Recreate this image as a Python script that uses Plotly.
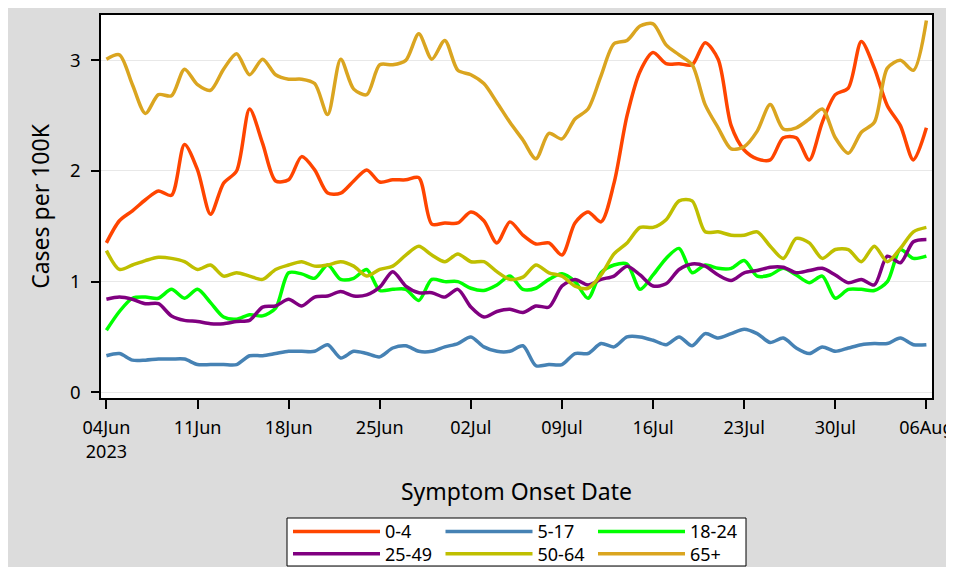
import pandas as pd
import plotly.graph_objects as go

# ---- data ----
start_date = "2023-06-04"
n_days = 64
dates = pd.date_range(start_date, periods=n_days, freq="D")

series_names = ["0-4", "5-17", "18-24", "25-49", "50-64", "65+"]

age_0_4 = [1.35, 1.55, 1.64, 1.74, 1.82, 1.78, 2.24, 2.01, 1.61, 1.89,
           2.00, 2.56, 2.25, 1.91, 1.92, 2.13, 2.01, 1.80, 1.80, 1.91,
           2.01, 1.90, 1.92, 1.92, 1.94, 1.52, 1.53, 1.53, 1.63, 1.55,
           1.35, 1.54, 1.42, 1.34, 1.35, 1.24, 1.53, 1.63, 1.54, 1.89,
           2.50, 2.90, 3.07, 2.97, 2.97, 2.96, 3.16, 3.01, 2.41, 2.19,
           2.11, 2.10, 2.30, 2.30, 2.10, 2.44, 2.69, 2.75, 3.17, 2.93,
           2.59, 2.41, 2.10, 2.39]
age_5_17 = [0.33, 0.35, 0.29, 0.29, 0.30, 0.30, 0.30, 0.25, 0.25, 0.25,
            0.25, 0.33, 0.33, 0.35, 0.37, 0.37, 0.37, 0.43, 0.31, 0.37,
            0.35, 0.32, 0.40, 0.42, 0.37, 0.37, 0.41, 0.44, 0.50, 0.41,
            0.37, 0.37, 0.42, 0.24, 0.25, 0.25, 0.35, 0.35, 0.44, 0.41,
            0.50, 0.50, 0.47, 0.43, 0.50, 0.42, 0.53, 0.49, 0.53, 0.57,
            0.53, 0.45, 0.49, 0.40, 0.35, 0.41, 0.37, 0.40, 0.43, 0.44,
            0.44, 0.49, 0.43, 0.43]
age_18_24 = [0.56, 0.73, 0.85, 0.86, 0.85, 0.93, 0.85, 0.93, 0.81, 0.68,
             0.66, 0.70, 0.69, 0.76, 1.08, 1.07, 1.03, 1.15, 1.02, 1.03,
             1.11, 0.92, 0.93, 0.93, 0.83, 1.02, 1.00, 1.00, 0.94, 0.92,
             0.97, 1.05, 0.93, 0.94, 1.02, 1.07, 1.00, 0.85, 1.08, 1.15,
             1.16, 0.93, 1.06, 1.21, 1.30, 1.08, 1.15, 1.12, 1.12, 1.19,
             1.05, 1.06, 1.12, 1.06, 0.99, 1.05, 0.85, 0.93, 0.93, 0.92,
             1.00, 1.29, 1.21, 1.23]
age_25_49 = [0.84, 0.86, 0.84, 0.80, 0.80, 0.69, 0.65, 0.64, 0.62, 0.62,
             0.64, 0.65, 0.77, 0.78, 0.84, 0.78, 0.86, 0.87, 0.91, 0.87,
             0.88, 0.95, 1.09, 0.96, 0.90, 0.90, 0.86, 0.93, 0.77, 0.68,
             0.73, 0.75, 0.72, 0.78, 0.77, 0.96, 1.02, 0.97, 1.02, 1.05,
             1.14, 1.06, 0.96, 0.98, 1.11, 1.16, 1.14, 1.06, 1.01, 1.08,
             1.10, 1.13, 1.13, 1.08, 1.10, 1.12, 1.06, 0.99, 1.02, 0.97,
             1.23, 1.17, 1.36, 1.38]
age_50_64 = [1.28, 1.11, 1.15, 1.19, 1.22, 1.21, 1.18, 1.11, 1.15, 1.05,
             1.08, 1.05, 1.02, 1.11, 1.15, 1.18, 1.14, 1.15, 1.18, 1.14,
             1.05, 1.11, 1.14, 1.24, 1.32, 1.24, 1.18, 1.25, 1.18, 1.18,
             1.09, 1.02, 1.04, 1.15, 1.08, 1.05, 0.96, 0.94, 1.06, 1.25,
             1.35, 1.49, 1.49, 1.56, 1.73, 1.73, 1.45, 1.45, 1.42, 1.42,
             1.45, 1.32, 1.21, 1.39, 1.35, 1.21, 1.29, 1.29, 1.18, 1.32,
             1.18, 1.30, 1.45, 1.49]
age_65_plus = [3.01, 3.05, 2.78, 2.52, 2.69, 2.68, 2.92, 2.78, 2.73, 2.92,
               3.06, 2.87, 3.01, 2.87, 2.83, 2.83, 2.79, 2.51, 3.01, 2.74,
               2.69, 2.96, 2.96, 3.00, 3.24, 3.01, 3.18, 2.91, 2.87, 2.79,
               2.62, 2.44, 2.28, 2.11, 2.34, 2.29, 2.47, 2.56, 2.86, 3.15,
               3.18, 3.31, 3.33, 3.14, 3.05, 2.96, 2.60, 2.39, 2.20, 2.22,
               2.36, 2.60, 2.38, 2.39, 2.47, 2.56, 2.30, 2.16, 2.35, 2.44,
               2.93, 3.00, 2.91, 3.36]

x_tick_dates = ["2023-06-04", "2023-06-11", "2023-06-18", "2023-06-25", "2023-07-02",
                "2023-07-09", "2023-07-16", "2023-07-23", "2023-07-30", "2023-08-06"]
x_tick_labels = ["04Jun<br>2023", "11Jun", "18Jun", "25Jun", "02Jul",
                 "09Jul", "16Jul", "23Jul", "30Jul", "06Aug"]
y_tick_vals = [0, 1, 2, 3]

# ---- styling ----
colors = ["#FF4500", "#4682B4", "#00FF00", "#800080", "#BFBF00", "#DAA520"]
series_values = [age_0_4, age_5_17, age_18_24, age_25_49, age_50_64, age_65_plus]

OFF = 8  # page body margin
W, H = 946, 559
ML, MT = 93, 7
PW, PH = 831, 383
MR, MB = W - ML - PW, H - MT - PH


def px_x(p):  # page pixel -> paper fraction
    return (p - OFF - ML) / PW


def px_y(p):
    return (H - MB - (p - OFF)) / PH


FONT = "Noto Sans"

fig = go.Figure()
legend_ids = ["legend", "legend2", "legend3", "legend4", "legend5", "legend6"]
for name, vals, col, lid in zip(series_names, series_values, colors, legend_ids):
    fig.add_trace(go.Scatter(
        x=dates, y=vals, name=name, mode="lines",
        line=dict(color=col, width=3.5, shape="spline", smoothing=0.8),
        legend=lid,
    ))

# legend positions: 3 columns x 2 rows (page pixels)
col_px = [288, 440.5, 593]
row_px = [531.7, 554]
legend_layouts = {}
for i, lid in enumerate(legend_ids):
    r, c = divmod(i, 3)
    legend_layouts[lid] = dict(
        x=px_x(col_px[c]), y=px_y(row_px[r]), xanchor="left", yanchor="middle",
        bgcolor="rgba(0,0,0,0)", borderwidth=0, itemwidth=87,
        font=dict(family=FONT, size=18, color="black"),
    )

fig.update_layout(
    width=W, height=H,
    margin=dict(l=ML, r=MR, t=MT, b=MB, autoexpand=False),
    paper_bgcolor="#DCDCDC",
    plot_bgcolor="white",
    font=dict(family=FONT, size=18, color="black"),
    showlegend=True,
    **legend_layouts,
    xaxis=dict(
        type="date",
        range=["2023-06-03 14:02", "2023-08-06 10:19"],
        tickvals=x_tick_dates, ticktext=x_tick_labels,
        ticks="outside", ticklen=9, tickwidth=1.5, tickcolor="black",
        showgrid=False, zeroline=False,
        showline=True, linecolor="black", linewidth=1.5, mirror=True,
        tickfont=dict(family=FONT, size=18, color="black"),
        ticklabelstandoff=4, ticklabeloverflow="allow",
        title=dict(text="Symptom Onset Date", font=dict(family=FONT, size=23), standoff=22),
    ),
    yaxis=dict(
        range=[-0.052, 3.41],
        tickvals=y_tick_vals,
        ticks="outside", ticklen=8, tickwidth=1.5, tickcolor="black",
        showgrid=True, gridcolor="#E8E8E8", gridwidth=1, zeroline=False,
        showline=True, linecolor="black", linewidth=1.5, mirror=True,
        tickfont=dict(family=FONT, size=18.5, color="black"),
        ticklabelstandoff=7,
        title=dict(text="Cases per 100K", font=dict(family=FONT, size=23), standoff=14),
    ),
    shapes=[
        dict(type="rect", xref="paper", yref="paper",
             x0=px_x(287), x1=px_x(746), y0=px_y(566), y1=px_y(518),
             fillcolor="white", line=dict(color="black", width=1), layer="above"),
    ],
)

fig.write_html("out.html")
